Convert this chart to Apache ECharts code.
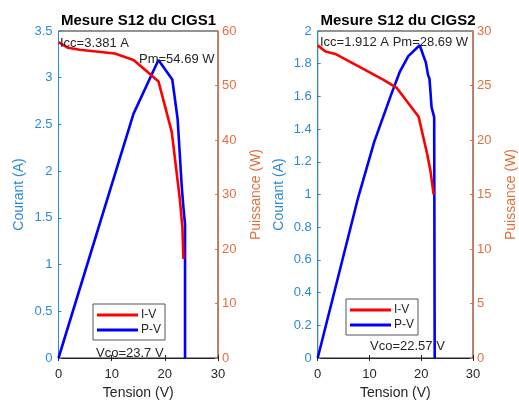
<!DOCTYPE html>
<html>
<head>
<meta charset="utf-8">
<script src="https://cdn.jsdelivr.net/npm/echarts@6/dist/echarts.min.js"></script>
<style>html,body{margin:0;padding:0;background:#fff}#c{width:519px;height:405px}</style>
</head>
<body>
<div id="c"></div>
<script>
// Chart 1 (CIGS1)
const vIV1 = [0, 1.8, 4.0, 10.6, 14.1, 16.6, 18.8, 21.3, 22.8, 23.3, 23.5];
const iIV1 = [3.381, 3.32, 3.30, 3.26, 3.19, 3.07, 2.96, 2.42, 1.71, 1.40, 1.06];
const vPV1 = [0, 14.1, 18.8, 21.4, 22.4, 23.2, 23.5, 23.8, 23.8];
const pPV1 = [0, 44.8, 54.69, 51.1, 43.9, 31.2, 27.6, 24.5, 0];
// Chart 2 (CIGS2)
const vIV2 = [0, 1.5, 3.4, 9.6, 12.8, 15.2, 19.5, 21.2, 21.8, 22.4];
const iIV2 = [1.912, 1.875, 1.86, 1.754, 1.70, 1.654, 1.475, 1.24, 1.14, 1.0];
const vPV2 = [0, 7.8, 10.9, 14.1, 15.9, 17.5, 19.7, 20.9, 21.3, 21.6, 22.0, 22.5, 22.6, 22.6];
const pPV2 = [0, 14.7, 19.8, 24.05, 26.3, 27.7, 28.69, 27.1, 26.0, 25.6, 23.0, 22.1, 22.0, 0];

const titles = ['Mesure S12 du CIGS1', 'Mesure S12 du CIGS2'];
const xName = 'Tension (V)';
const yLeftName = 'Courant (A)';
const yRightName = 'Puissance (W)';
const seriesNames = ['I-V', 'P-V'];

const pairs = (xs, ys) => xs.map((x, i) => [x, ys[i]]);

const BLUE_AX = '#2a8ad2';
const ORANGE_AX = '#e2703f';
const DARK = '#262626';
const FONT = 'Liberation Sans, Arial, sans-serif';

const grids = [
  {left: 58.5, top: 31, width: 159.5, height: 331},
  {left: 317.7, top: 31, width: 159.6, height: 331}
];

function xBottom(gi) {
  return {
    type: 'value', gridIndex: gi, min: 0, max: 30, interval: 10,
    name: xName, nameLocation: 'middle', nameGap: 28,
    nameTextStyle: {color: DARK, fontSize: 14, fontFamily: FONT},
    axisLine: {show: true, lineStyle: {color: DARK, width: 1}},
    axisTick: {show: true, inside: true, length: 3, lineStyle: {color: DARK}},
    axisLabel: {color: DARK, fontSize: 13, fontFamily: FONT, margin: 10},
    splitLine: {show: false}
  };
}
function xTop(gi) {
  return {
    type: 'value', gridIndex: gi, min: 0, max: 30, interval: 10, position: 'top',
    axisLine: {show: false},
    axisTick: {show: true, inside: true, length: 3, lineStyle: {color: DARK}},
    axisLabel: {show: false}, splitLine: {show: false}
  };
}
function yAxis(gi, pos, max, interval, name, color, gap) {
  return {
    type: 'value', gridIndex: gi, position: pos, min: 0, max: max, interval: interval,
    name: name, nameLocation: 'middle', nameGap: gap,
    nameTextStyle: {color: color, fontSize: 14, fontFamily: FONT},
    axisLine: {show: true, onZero: false, lineStyle: {color: color, width: 1}},
    axisTick: {show: true, inside: true, length: 3, lineStyle: {color: color}},
    axisLabel: {color: color, fontSize: 13, fontFamily: FONT, margin: pos === 'left' ? 6 : 4},
    splitLine: {show: false}
  };
}

function legendAt(left, top, names) {
  return {
    data: names.map(n => ({name: n})),
    left: left, top: top, orient: 'vertical',
    icon: 'rect', itemWidth: 41, itemHeight: 3, itemGap: 1,
    padding: [4, 4, 3, 4],
    borderColor: '#555', borderWidth: 1, backgroundColor: '#fff',
    textStyle: {color: DARK, fontSize: 12, fontFamily: FONT, padding: [0, 0, 0, -2], lineHeight: 14},
    selectedMode: false
  };
}

const lineSeries = (name, xi, yi, data, color) => ({
  name: name, type: 'line', xAxisIndex: xi, yAxisIndex: yi, data: data,
  showSymbol: false, symbol: 'none', animation: false,
  lineStyle: {color: color, width: 2.6}, itemStyle: {color: color}, z: name === 'P-V' ? 3 : 4
});

const txt = (x, y, s) => ({type: 'text', left: x, top: y, style: {text: s, fill: DARK, font: '13px ' + FONT}, z: 10});

const option = {
  animation: false,
  backgroundColor: '#fff',
  title: [
    {text: titles[0], left: 138.5, top: 13, textAlign: 'center', textStyle: {fontSize: 15, fontWeight: 'bold', color: '#000', fontFamily: FONT}, padding: 0},
    {text: titles[1], left: 398, top: 13, textAlign: 'center', textStyle: {fontSize: 15, fontWeight: 'bold', color: '#000', fontFamily: FONT}, padding: 0}
  ],
  grid: grids.map(g => Object.assign({show: true, borderColor: DARK, borderWidth: 1, backgroundColor: '#fff'}, g)),
  legend: [legendAt(93, 304, seriesNames), legendAt(346, 299, seriesNames)],
  xAxis: [xBottom(0), xTop(0), xBottom(1), xTop(1)],
  yAxis: [
    yAxis(0, 'left', 3.5, 0.5, yLeftName, BLUE_AX, 32),
    yAxis(0, 'right', 60, 10, yRightName, ORANGE_AX, 31),
    yAxis(1, 'left', 2, 0.2, yLeftName, BLUE_AX, 32),
    yAxis(1, 'right', 30, 5, yRightName, ORANGE_AX, 31)
  ],
  series: [
    lineSeries(seriesNames[0], 0, 0, pairs(vIV1, iIV1), '#ff0000'),
    lineSeries(seriesNames[1], 0, 1, pairs(vPV1, pPV1), '#0000ff'),
    lineSeries(seriesNames[0], 2, 2, pairs(vIV2, iIV2), '#ff0000'),
    lineSeries(seriesNames[1], 2, 3, pairs(vPV2, pPV2), '#0000ff')
  ],
  graphic: [
    txt(60, 37, 'Icc=3.381 A'),
    txt(139, 53, 'Pm=54.69 W'),
    txt(96, 347, 'Vco=23.7 V'),
    txt(320, 36, 'Icc=1.912 A Pm=28.69 W'),
    txt(370, 340, 'Vco=22.57 V')
  ]
};

const chart = echarts.init(document.getElementById('c'), null, {renderer: 'canvas'});
chart.setOption(option);
</script>
</body>
</html>
